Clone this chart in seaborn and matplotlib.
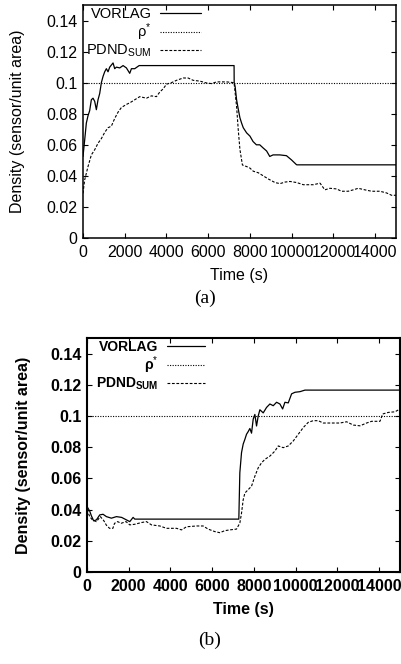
import matplotlib
matplotlib.use("Agg")
import matplotlib.pyplot as plt
import numpy as np
import pandas as pd
import seaborn as sns

# ---------------- data ----------------
a_vorlag_t = [0, 80, 160, 240, 320, 400, 480, 560, 640, 720, 800, 880, 960, 1040, 1120,
              1200, 1280, 1440, 1520, 1600, 1760, 1920, 2080, 2240, 2320, 2480, 2690,
              7240, 7245, 7290, 7360, 7440, 7520, 7600, 7680, 7840, 8000, 8150, 8310,
              8470, 8630, 8800, 8950, 9110, 9430, 9750, 9990, 10230, 10260, 15000]
a_vorlag_v = [0.0525, 0.063, 0.074, 0.0787, 0.082, 0.089, 0.090, 0.088, 0.0826, 0.089,
              0.093, 0.100, 0.104, 0.107, 0.109, 0.107, 0.110, 0.1127, 0.109, 0.110,
              0.1095, 0.111, 0.1095, 0.106, 0.109, 0.109, 0.111,
              0.111, 0.1, 0.0976, 0.089, 0.083, 0.0774, 0.074, 0.071, 0.0677, 0.0656,
              0.0621, 0.060, 0.060, 0.058, 0.056, 0.0525, 0.0535, 0.0535, 0.053, 0.0503,
              0.0472, 0.0471, 0.0471]

a_pdnd_t = [0, 80, 240, 400, 560, 720, 880, 1040, 1200, 1360, 1520, 1680, 1840, 2080,
            2240, 2480, 2720, 3040, 3280, 3520, 3680, 3840, 4000, 4240, 4480, 4800,
            5040, 5280, 5600, 5920, 6160, 6400, 6880, 7240, 7360, 7440, 7520, 7640,
            7840, 8000, 8160, 8400, 8640, 8880, 9200, 9440, 9680, 9920, 10240, 10560,
            10800, 11040, 11360, 11590, 11830, 12150, 12390, 12710, 12950, 13190,
            13510, 13830, 14230, 14550, 14790, 15000]
a_pdnd_v = [0.0288, 0.0374, 0.046, 0.0535, 0.0568, 0.061, 0.064, 0.068, 0.071, 0.072,
            0.077, 0.081, 0.084, 0.086, 0.087, 0.089, 0.091, 0.090, 0.0915, 0.091,
            0.094, 0.096, 0.099, 0.100, 0.1015, 0.103, 0.103, 0.1015, 0.101, 0.0998,
            0.0994, 0.1005, 0.1005, 0.100, 0.0847, 0.0697, 0.057, 0.047, 0.046, 0.045,
            0.043, 0.042, 0.040, 0.038, 0.0357, 0.035, 0.036, 0.0364, 0.0357, 0.0343,
            0.0343, 0.0343, 0.0353, 0.031, 0.032, 0.0316, 0.0301, 0.0301, 0.031, 0.032,
            0.031, 0.0301, 0.0301, 0.029, 0.0275, 0.0275]

b_vorlag_t = [0, 130, 210, 320, 450, 610, 770, 930, 1170, 1410, 1660, 1890, 2050, 2210,
              2290, 7276, 7324, 7405, 7485, 7565, 7645, 7725, 7805, 7885, 7965, 8045,
              8125, 8205, 8285, 8445, 8605, 8765, 8925, 9085, 9245, 9375, 9485, 9645,
              9805, 9965, 10205, 10445, 15000]
b_vorlag_v = [0.042, 0.039, 0.036, 0.0328, 0.0334, 0.0366, 0.037, 0.0355, 0.0345,
              0.0355, 0.035, 0.0334, 0.0323, 0.035, 0.0339, 0.0339, 0.0636, 0.0765,
              0.082, 0.085, 0.0883, 0.090, 0.092, 0.089, 0.098, 0.101, 0.0936, 0.100,
              0.104, 0.102, 0.1055, 0.1077, 0.1066, 0.1088, 0.1077, 0.1045, 0.1088,
              0.1084, 0.1142, 0.1152, 0.1156, 0.1166, 0.1166]

b_pdnd_t = [0, 130, 260, 450, 640, 800, 930, 1080, 1240, 1320, 1470, 1630, 1870, 2050,
            2290, 2610, 2850, 3090, 3490, 3810, 4290, 4530, 4770, 5250, 5565, 5805,
            6125, 6365, 6605, 6845, 7165, 7325, 7405, 7485, 7565, 7725, 7885, 8045,
            8205, 8365, 8525, 8765, 9005, 9165, 9405, 9645, 9885, 10125, 10365, 10600,
            10840, 11080, 11320, 12120, 12440, 12760, 13080, 13400, 13640, 14040,
            14170, 14440, 14760, 15000]
b_pdnd_v = [0.040, 0.0355, 0.0334, 0.0323, 0.0355, 0.033, 0.030, 0.028, 0.028, 0.0312,
            0.0323, 0.0312, 0.0323, 0.0302, 0.0306, 0.0317, 0.0323, 0.0302, 0.0295,
            0.028, 0.028, 0.027, 0.029, 0.0295, 0.0295, 0.0275, 0.0259, 0.0252, 0.0265,
            0.027, 0.0275, 0.0314, 0.0377, 0.0463, 0.0506, 0.0528, 0.055, 0.0614,
            0.0668, 0.070, 0.0722, 0.0743, 0.0775, 0.0808, 0.0797, 0.0808, 0.084,
            0.0883, 0.0926, 0.0959, 0.097, 0.097, 0.0955, 0.0955, 0.0963, 0.0942,
            0.0937, 0.0955, 0.0966, 0.0966, 0.1013, 0.1023, 0.1027, 0.1045]

rho_t = [0, 15000]
rho_v = [0.1, 0.1]

x_ticks = [0, 2000, 4000, 6000, 8000, 10000, 12000, 14000]
x_tick_labels = ["0", "2000", "4000", "6000", "8000", "10000", "12000", "14000"]
y_ticks = [0, 0.02, 0.04, 0.06, 0.08, 0.10, 0.12, 0.14]
y_tick_labels = ["0", "0.02", "0.04", "0.06", "0.08", "0.1", "0.12", "0.14"]
x_label = "Time (s)"
y_label = "Density (sensor/unit area)"
captions = ["(a)", "(b)"]

# ---------------- style ----------------
sns.set_theme(style="ticks")
plt.rcParams.update({
    "font.family": ["Liberation Sans", "DejaVu Sans"],
    "mathtext.fontset": "custom",
    "mathtext.rm": "Liberation Sans",
    "mathtext.it": "Liberation Sans",
    "mathtext.bf": "Liberation Sans:bold",
    "axes.edgecolor": "black",
    "xtick.color": "black",
    "ytick.color": "black",
    "text.color": "black",
    "axes.labelcolor": "black",
})

FS = 11.5
fig = plt.figure(figsize=(4.02, 6.64), dpi=100)


def panel(rect, vt, vv, pt, pv, bold, spine_lw, leg_fs, ylab_x):
    ax = fig.add_axes(rect)
    weight = "bold" if bold else "normal"
    sub = r"PDND$_{\mathbf{SUM}}$" if bold else r"PDND$_{\mathrm{SUM}}$"
    sns.lineplot(x=vt, y=vv, ax=ax, color="black", linewidth=0.9,
                 estimator=None, label="VORLAG")
    sns.lineplot(x=rho_t, y=rho_v, ax=ax, color="black", linewidth=0.8,
                 linestyle=(0, (1, 1.3)), estimator=None, label=r"ρ$^{*}$")
    sns.lineplot(x=pt, y=pv, ax=ax, color="black", linewidth=0.8,
                 linestyle=(0, (2.5, 1.5)), estimator=None, label=sub)
    ax.set_xlim(0, 15000)
    ax.set_ylim(0, 0.15)
    ax.set_xticks(x_ticks)
    ax.set_xticklabels(x_tick_labels, fontsize=FS, fontweight=weight)
    ax.set_yticks(y_ticks)
    ax.set_yticklabels(y_tick_labels, fontsize=FS, fontweight=weight)
    ax.tick_params(direction="in", top=True, right=True, length=3.6, width=0.8,
                   pad=4)
    ax.tick_params(axis="x", pad=5)
    for s in ax.spines.values():
        s.set_linewidth(spine_lw)
        s.set_color("black")
    ax.set_xlabel(x_label, fontsize=FS, fontweight=weight)
    ax.set_ylabel(y_label, fontsize=FS, fontweight=weight)
    ax.xaxis.set_label_coords(0.5, -0.13)
    ax.yaxis.set_label_coords(ylab_x, 0.5)
    ax.legend(loc="upper right", bbox_to_anchor=(0.385, 1.0), frameon=False,
              markerfirst=False, handlelength=2.8, handletextpad=0.6,
              labelspacing=0.0, borderpad=0.15, borderaxespad=0,
              prop={"size": leg_fs, "weight": weight, "family": "Liberation Sans"})
    return ax


panel([83 / 402, (664 - 238) / 664, 313 / 402, 233 / 664],
      a_vorlag_t, a_vorlag_v, a_pdnd_t, a_pdnd_v, False, 1.1, 10.5, -0.185)
panel([87 / 402, (664 - 572) / 664, 313 / 402, 234 / 664],
      b_vorlag_t, b_vorlag_v, b_pdnd_t, b_pdnd_v, True, 1.5, 10, -0.18)

fig.text(205 / 402, 1 - 298 / 664, captions[0], ha="center", va="center",
         fontsize=14, family="Liberation Serif")
fig.text(210 / 402, 1 - 640 / 664, captions[1], ha="center", va="center",
         fontsize=14, family="Liberation Serif")

fig.savefig("out.png", dpi=100)
